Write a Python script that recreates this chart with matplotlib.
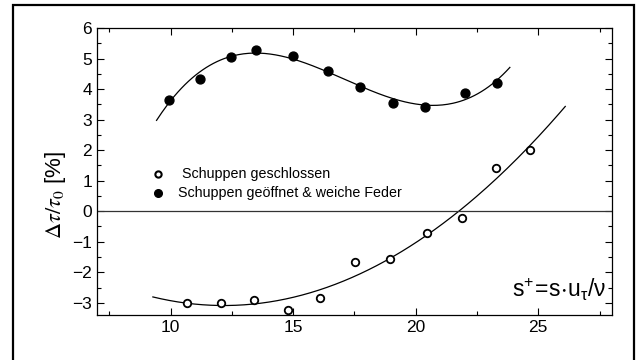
import numpy as np
import matplotlib
matplotlib.use("Agg")
import matplotlib.pyplot as plt
from matplotlib.ticker import MultipleLocator
from matplotlib.patches import Rectangle

plt.rcParams['font.family'] = ['Liberation Sans', 'DejaVu Sans']
plt.rcParams['mathtext.fontset'] = 'custom'
plt.rcParams['mathtext.rm'] = 'Liberation Sans'
plt.rcParams['mathtext.it'] = 'Liberation Sans'
plt.rcParams['mathtext.bf'] = 'Liberation Sans'

# Data: Schuppen geoeffnet & weiche Feder (filled)
x_open_soft = [9.92, 11.19, 12.48, 13.50, 15.00, 16.42, 17.74, 19.06, 20.37, 22.00, 23.31]
y_open_soft = [3.66, 4.33, 5.05, 5.27, 5.10, 4.60, 4.06, 3.56, 3.41, 3.86, 4.21]
fit_range_soft = [9.43, 23.84]

# Data: Schuppen geschlossen (open circles)
x_closed = [10.67, 12.07, 13.42, 14.81, 16.09, 17.54, 18.94, 20.46, 21.87, 23.28, 24.68]
y_closed = [-3.00, -3.00, -2.91, -3.22, -2.85, -1.66, -1.56, -0.71, -0.22, 1.42, 1.99]
fit_range_closed = [9.28, 26.1]

label_closed = " Schuppen geschlossen"
label_soft = "Schuppen geöffnet & weiche Feder"

fig = plt.figure(figsize=(6.38, 3.6), dpi=100)
ax = fig.add_axes([0.152, 0.125, 0.807, 0.797])

# fits
c1 = np.polyfit(x_open_soft, y_open_soft, 3)
xf1 = np.linspace(fit_range_soft[0], fit_range_soft[1], 200)
ax.plot(xf1, np.polyval(c1, xf1), color='black', lw=0.9)
c2 = np.polyfit(x_closed, y_closed, 2)
xf2 = np.linspace(fit_range_closed[0], fit_range_closed[1], 200)
ax.plot(xf2, np.polyval(c2, xf2), color='black', lw=0.9)

ax.axhline(0, color='#333333', lw=0.9)

ax.plot(x_closed, y_closed, 'o', mfc='white', mec='black', mew=1.3, ms=5.4, ls='none')
ax.plot(x_open_soft, y_open_soft, 'o', mfc='black', mec='black', ms=6.4, ls='none')

ax.set_xlim(7, 28)
ax.set_ylim(-3.4, 6)
ax.xaxis.set_major_locator(MultipleLocator(5))
ax.xaxis.set_minor_locator(MultipleLocator(2.5))
ax.yaxis.set_major_locator(MultipleLocator(1))
ax.yaxis.set_minor_locator(MultipleLocator(0.5))
ax.tick_params(which='both', direction='in', top=True, right=True, labelsize=12.5, width=0.8)
ax.tick_params(which='major', length=5)
ax.tick_params(which='minor', length=3)
ax.set_xticks([10, 15, 20, 25])
ax.set_xticklabels(['10', '15', '20', '25'])
for s in ax.spines.values():
    s.set_linewidth(0.9)

# legend
leg_x = (158 - 97) / 515 * 21 + 7
ax.plot([leg_x], [(211.4 - 174) / 30.6], 'o', mfc='white', mec='black', mew=1.5, ms=4.5)
ax.plot([leg_x], [(211.4 - 193) / 30.6], 'o', mfc='black', mec='black', ms=5.5)
fig.text(178 / 638, 1 - 174 / 360, label_closed, fontsize=10.3, va='center', ha='left')
fig.text(178 / 638, 1 - 193 / 360, label_soft, fontsize=10.3, va='center', ha='left')

# annotation
fig.text(512 / 638, 1 - 297 / 360, r'$\mathregular{s^{+}\!=\!s\!\cdot\! u_{\tau}/\nu}$', fontsize=16.5,
         va='baseline', ha='left')

# y label
fig.text(55 / 638, 1 - 195 / 360, r'$\Delta\tau/\tau_{0}$ [%]', rotation=90, fontsize=16,
         va='center', ha='center',
         math_fontfamily='stix')

# outer frame
fig.patches.append(Rectangle((13 / 638, -0.1), (634 - 13) / 638, 1.1 - 5 / 360,
                             transform=fig.transFigure, fill=False, ec='black', lw=1.6))

fig.savefig('out.png', dpi=100)
